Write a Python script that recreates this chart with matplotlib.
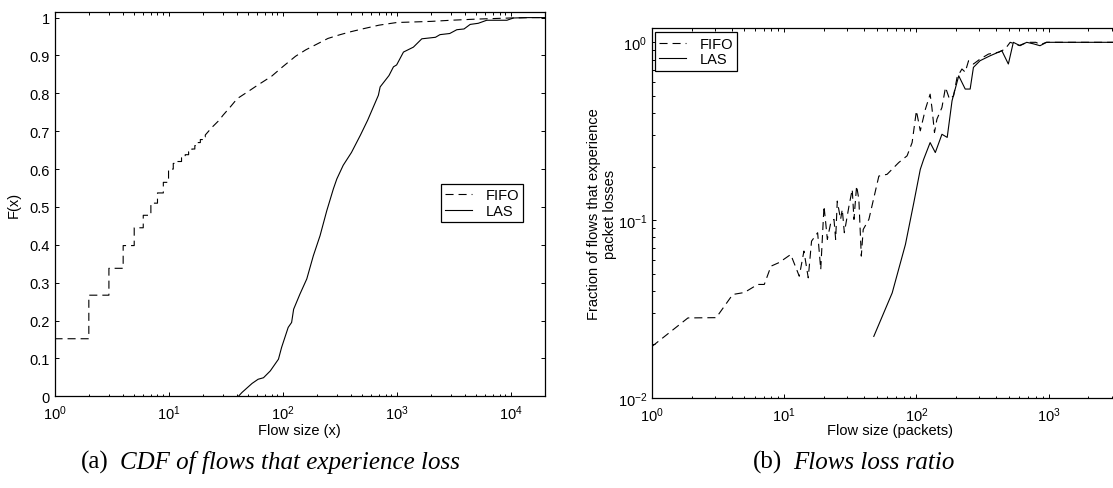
import numpy as np
import matplotlib
matplotlib.use('Agg')
import matplotlib.pyplot as plt
from matplotlib.ticker import LogLocator, MultipleLocator, NullFormatter, FuncFormatter

plt.rcParams['font.family'] = ['Liberation Sans', 'DejaVu Sans']
plt.rcParams['mathtext.default'] = 'regular'
plt.rcParams['font.size'] = 10.5
plt.rcParams['lines.scale_dashes'] = False

# (a) CDF of flows that experience loss
# FIFO: integer flow sizes give visible stairs at small x
cdf_fifo_step_x = [1, 2, 3, 4, 5, 6, 7, 8, 9, 10, 11, 12, 13, 14, 15, 16, 17, 18, 19, 20, 21]
cdf_fifo_step_y = [0.152, 0.267, 0.338, 0.398, 0.445, 0.478, 0.51, 0.537, 0.565, 0.60, 0.615,
                   0.62, 0.63, 0.638, 0.646, 0.653, 0.662, 0.67, 0.678, 0.685, 0.69]
cdf_fifo_x = [24, 28, 30, 35, 40, 50, 60, 80, 100, 130, 160, 200, 250, 320, 400, 500, 700,
              1000, 2000, 3000, 5000, 10000, 15000, 20000]
cdf_fifo_y = [0.71, 0.73, 0.742, 0.765, 0.786, 0.805, 0.821, 0.845, 0.87, 0.898, 0.915,
              0.93, 0.945, 0.955, 0.963, 0.97, 0.98, 0.987, 0.99, 0.993, 0.996, 0.999,
              1.0, 1.0]
cdf_las_x = [41, 44, 50, 54, 61, 68, 78, 92, 98, 112, 120, 125, 142, 163, 186, 213, 244,
             279, 299, 340, 402, 482, 557, 692, 717, 857, 938, 1000, 1148, 1403, 1663,
             2190, 2400, 2922, 3370, 3900, 4415, 5200, 6170, 9270, 10590, 14200, 20000]
cdf_las_y = [0.0, 0.01, 0.025, 0.034, 0.045, 0.049, 0.067, 0.098, 0.129, 0.182, 0.195,
             0.23, 0.27, 0.31, 0.371, 0.424, 0.49, 0.548, 0.574, 0.61, 0.644, 0.69,
             0.729, 0.795, 0.817, 0.847, 0.87, 0.875, 0.909, 0.922, 0.944, 0.948, 0.955,
             0.958, 0.968, 0.97, 0.982, 0.985, 0.993, 0.993, 0.999, 1.0, 1.0]

# (b) Flows loss ratio
ratio_fifo_x = [1.0, 1.87, 3.06, 4.08, 5.0, 6.3, 7.07, 7.94, 9.17, 11.2, 13.0, 14.1, 15.2,
                16.1, 17.9, 18.9, 20.0, 20.6, 21.2, 22.5, 23.8, 24.5, 25.2, 26.7, 27.5,
                28.5, 30.9, 32.7, 33.7, 35.3, 36.7, 38.3, 39.6, 43.7, 52, 60, 73.6, 85,
                92.8, 100, 107, 117, 127, 131, 137, 143, 156, 166, 178, 191, 203, 221,
                234, 248, 270, 303, 351, 420, 469, 512, 600, 690, 800, 870, 960, 4000]
ratio_fifo_y = [0.0195, 0.0282, 0.0283, 0.0382, 0.0392, 0.0435, 0.0435, 0.0551, 0.0578,
                0.0641, 0.0484, 0.067, 0.0474, 0.0762, 0.085, 0.0528, 0.12, 0.0968, 0.078,
                0.0968, 0.101, 0.078, 0.128, 0.101, 0.115, 0.085, 0.12, 0.149, 0.101,
                0.156, 0.131, 0.0628, 0.0887, 0.101, 0.177, 0.181, 0.211, 0.23, 0.273,
                0.412, 0.318, 0.421, 0.511, 0.43, 0.311, 0.37, 0.43, 0.558, 0.479, 0.5,
                0.635, 0.708, 0.68, 0.788, 0.755, 0.805, 0.859, 0.88, 0.917, 1.0, 0.96,
                1.0, 1.0, 0.97, 1.0, 1.0]
ratio_las_x = [47.6, 65.6, 82.6, 95.5, 107, 113.5, 127, 139, 156, 171, 186, 209, 234, 255,
               270, 303, 361, 443, 496, 541, 608, 683, 770, 861, 966, 4000]
ratio_las_y = [0.0222, 0.039, 0.073, 0.125, 0.193, 0.22, 0.273, 0.24, 0.304, 0.292, 0.469,
               0.648, 0.546, 0.546, 0.723, 0.788, 0.84, 0.897, 0.755, 1.0, 0.957, 1.0,
               0.98, 0.957, 1.0, 1.0]

W, H = 1113, 489
fig = plt.figure(figsize=(W / 100, H / 100), dpi=100)

dash = (5.8, 3.6)
lw = 0.8


def style_axes(ax):
    for s in ax.spines.values():
        s.set_linewidth(0.9)
    ax.tick_params(which='both', direction='in', top=True, right=True, width=0.7)
    ax.tick_params(which='major', length=3.2)
    ax.tick_params(axis='x', which='major', pad=5)
    ax.tick_params(axis='y', which='major', pad=3.5)
    ax.tick_params(which='minor', length=1.8)


def legend(ax, anchor):
    leg = ax.legend(loc='upper left', bbox_to_anchor=anchor, borderaxespad=0,
                    fancybox=False, framealpha=1, edgecolor='black',
                    handlelength=1.85, handletextpad=0.9, borderpad=0.3,
                    labelspacing=0.1)
    leg.get_frame().set_linewidth(0.9)


# stairs for the small sizes, then the fine tail
fx = np.repeat(cdf_fifo_step_x, 2)[1:]
fy = np.repeat(cdf_fifo_step_y, 2)[:-1]
fifo_x = np.concatenate([fx, cdf_fifo_x])
fifo_y = np.concatenate([fy, cdf_fifo_y])

# left panel
ax1 = fig.add_axes([54.5 / W, 1 - 397.3 / H, 490.5 / W, 384 / H])
ax1.plot(fifo_x, fifo_y, 'k', lw=lw, dashes=dash, label='FIFO')
ax1.plot(cdf_las_x, cdf_las_y, 'k-', lw=lw, label='LAS')
ax1.set_xscale('log')
ax1.set_xlim(1, 2e4)
ax1.set_ylim(0, 1.014)
ax1.yaxis.set_major_locator(MultipleLocator(0.1))
ax1.yaxis.set_major_formatter(FuncFormatter(lambda v, p: '%g' % round(v, 1)))
ax1.xaxis.set_minor_locator(LogLocator(base=10, subs=np.arange(2, 10), numticks=20))
ax1.xaxis.set_minor_formatter(NullFormatter())
style_axes(ax1)
ax1.set_xlabel('Flow size (x)')
ax1.set_ylabel('F(x)')
ax1.xaxis.set_label_coords(0.5, (397.3 - 424) / 384)
ax1.yaxis.set_label_coords((21 - 54.5) / 490.5, 0.5)
legend(ax1, ((441 - 54.5) / 490.5, (397.3 - 185) / 384))

# right panel (runs past the right edge of the picture, as in the original)
ax2 = fig.add_axes([652 / W, 1 - 399 / H, 476.2 / W, 369.7 / H])
ax2.plot(ratio_fifo_x, ratio_fifo_y, 'k', lw=lw, dashes=dash, label='FIFO')
ax2.plot(ratio_las_x, ratio_las_y, 'k-', lw=lw, label='LAS')
ax2.set_xscale('log')
ax2.set_yscale('log')
ax2.set_xlim(1, 4000)
ax2.set_ylim(0.01, 1.199)
for axis in (ax2.xaxis, ax2.yaxis):
    axis.set_minor_locator(LogLocator(base=10, subs=np.arange(2, 10), numticks=20))
    axis.set_minor_formatter(NullFormatter())
style_axes(ax2)
ax2.set_xlabel('Flow size (packets)')
ax2.set_ylabel('Fraction of flows that experience\npacket losses')
ax2.xaxis.set_label_coords(0.5, (399 - 424) / 369.7)
ax2.yaxis.set_label_coords((617 - 652) / 476.2, 0.5)
legend(ax2, ((655 - 652) / 476.2, (399 - 33.3) / 369.7))

# captions
cap_y = 1 - 469 / H
cap = dict(family=['Liberation Serif', 'DejaVu Serif'], fontsize=18, va='baseline')
fig.text(81 / W, cap_y, '(a)', ha='left', **cap)
fig.text(120 / W, cap_y, 'CDF of flows that experience loss', ha='left', style='italic', **cap)
fig.text(753 / W, cap_y, '(b)', ha='left', **cap)
fig.text(793 / W, cap_y, 'Flows loss ratio', ha='left', style='italic', **cap)

fig.savefig('out.png', dpi=100)
